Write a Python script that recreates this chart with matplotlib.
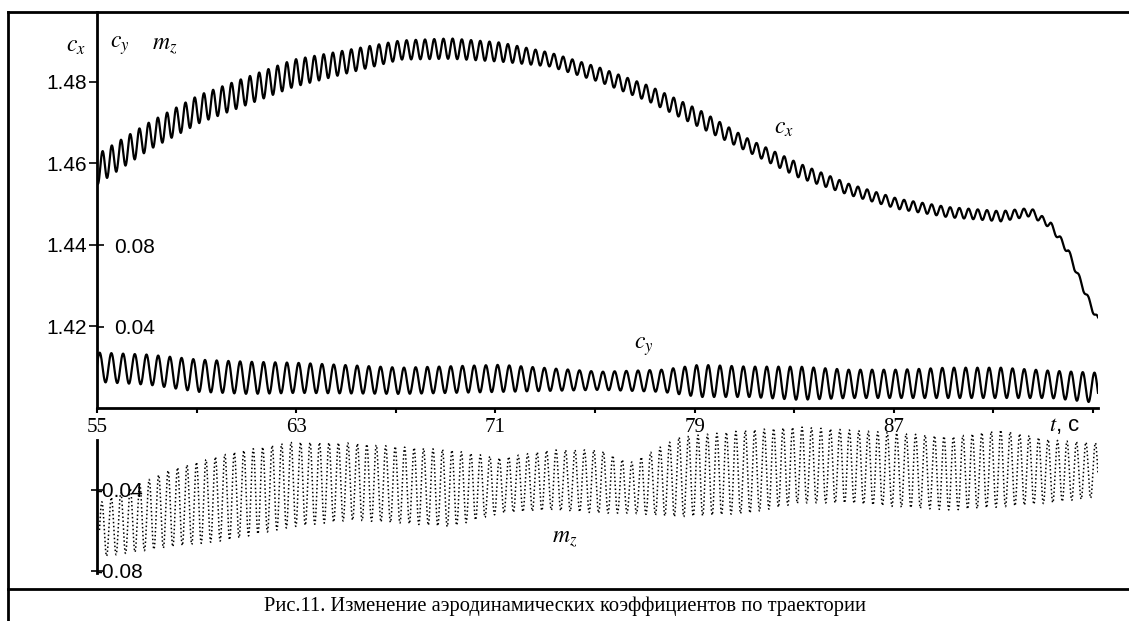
import numpy as np
import matplotlib.pyplot as plt
from matplotlib.lines import Line2D

plt.rcParams['mathtext.fontset'] = 'stix'
plt.rcParams['axes.unicode_minus'] = False

W, H = 1129, 621

# envelopes: upper and lower edge of each oscillating curve
t_cx = [55.0, 57.1, 59.1, 62.9, 67.2, 69.2, 71.2, 73.2, 75.2, 77.2, 79.2, 81.2,
        83.2, 85.2, 87.2, 89.2, 91.3, 92.5, 93.3, 94.0, 94.4, 94.8, 95.2]
cx_hi = [1.4622, 1.4701, 1.4768, 1.4855, 1.4902, 1.4907, 1.4897, 1.4872, 1.4835,
         1.4790, 1.4731, 1.4659, 1.4600, 1.4550, 1.4513, 1.4493, 1.4483, 1.4491,
         1.4456, 1.4392, 1.4332, 1.4275, 1.4223]
cx_lo = [1.4548, 1.4634, 1.4699, 1.4788, 1.4855, 1.4857, 1.4850, 1.4838, 1.4800,
         1.4751, 1.4689, 1.4627, 1.4565, 1.4523, 1.4488, 1.4468, 1.4458, 1.4471,
         1.4441, 1.4377, 1.4317, 1.4260, 1.4206]

t_cy = [55.0, 57.1, 59.1, 61.1, 63.0, 67.2, 71.2, 75.2, 77.7, 79.2, 81.2, 83.2,
        85.2, 87.2, 89.2, 91.3, 93.3, 95.2]
cy_hi = [0.0272, 0.0262, 0.0237, 0.0227, 0.0222, 0.0198, 0.0212, 0.0178, 0.0188,
         0.0212, 0.0203, 0.0203, 0.0188, 0.0188, 0.0198, 0.0198, 0.0183, 0.0173]
cy_lo = [0.0128, 0.0114, 0.0079, 0.0069, 0.0074, 0.0069, 0.0079, 0.0089, 0.0079,
         0.0054, 0.0054, 0.0040, 0.0049, 0.0049, 0.0049, 0.0049, 0.0049, 0.0025]

t_mz = [55.1, 57.9, 60.3, 62.8, 65.2, 67.2, 69.2, 71.2, 73.2, 75.2, 76.4, 78.4,
        81.2, 83.2, 85.2, 87.2, 89.3, 91.3, 93.3, 95.2]
mz_hi = [-0.0466, -0.0304, -0.0221, -0.0167, -0.0172, -0.0191, -0.0206, -0.0246,
         -0.0206, -0.0206, -0.0270, -0.0142, -0.0108, -0.0093, -0.0108, -0.0123,
         -0.0142, -0.0108, -0.0157, -0.0172]
mz_lo = [-0.0732, -0.0683, -0.0648, -0.0584, -0.0550, -0.0565, -0.0584, -0.0516,
         -0.0501, -0.0516, -0.0516, -0.0535, -0.0516, -0.0466, -0.0466, -0.0486,
         -0.0501, -0.0486, -0.0466, -0.0437]

# oscillation periods (s), counted from the picture
period_cx = 0.37
period_cy = 0.47
period_mz = 0.38

x_ticks = [55, 59, 63, 67, 71, 75, 79, 83, 87, 91, 95]
x_labels = ['55', '', '63', '', '71', '', '79', '', '87', '', '']
cx_ticks = [1.42, 1.44, 1.46, 1.48]
cy_ticks = [0.04, 0.08]
mz_ticks = [-0.04, -0.08]


def wave(t_knots, hi, lo, period, t):
    up = np.interp(t, t_knots, hi)
    dn = np.interp(t, t_knots, lo)
    return (up + dn) / 2 + (up - dn) / 2 * np.sin(2 * np.pi * t / period)


def fx(px):
    return px / W


def fy(py):
    return 1 - py / H


t = np.linspace(55.0, 95.2, 6000)
t_m = np.linspace(55.1, 95.2, 6000)
cx = wave(t_cx, cx_hi, cx_lo, period_cx, t)
cy = wave(t_cy, cy_hi, cy_lo, period_cy, t)
mz = wave(t_mz, mz_hi, mz_lo, period_mz, t_m)

fig = plt.figure(figsize=(W / 100, H / 100), dpi=100)

px_per = 0.04 / 81.5   # cy / mz units per pixel
ax = fig.add_axes([fx(97), fy(408), fx(1098) - fx(97), fy(12) - fy(408)])
ax.set_xlim(55, 95.2)
ax.set_ylim(0, 396 * px_per)
ax.patch.set_visible(False)
for s in ['top', 'right']:
    ax.spines[s].set_visible(False)
ax.spines['left'].set_linewidth(2)
ax.spines['bottom'].set_linewidth(2)
ax.set_xticks(x_ticks, x_labels, fontfamily='Liberation Serif', fontsize=15)
ax.tick_params(axis='x', direction='out', length=3.5, width=1.5, pad=4)
ax.set_yticks(cy_ticks, ['0.04', '0.08'], fontfamily='Liberation Sans', fontsize=15)
ax.tick_params(axis='y', direction='in', length=5, width=1.2, pad=-12)
for lab in ax.get_yticklabels():
    lab.set_horizontalalignment('left')

axx = ax.twinx()
axx.set_ylim(1.40, 1.40 + 396 * px_per / 2)
axx.patch.set_visible(False)
for s in axx.spines.values():
    s.set_visible(False)
axx.yaxis.tick_left()
axx.set_yticks(cx_ticks, ['1.42', '1.44', '1.46', '1.48'], fontfamily='Liberation Sans', fontsize=15)
axx.tick_params(axis='y', direction='out', length=6, width=1.2, pad=1)

axm = fig.add_axes([fx(97), fy(585), fx(1098) - fx(97), fy(408) - fy(585)])
axm.set_xlim(55, 95.2)
axm.set_ylim(-177 * px_per, 0)
axm.patch.set_visible(False)
for s in ['top', 'right', 'bottom']:
    axm.spines[s].set_visible(False)
axm.spines['left'].set_linewidth(2)
axm.spines['left'].set_bounds(-0.081, -0.0158)
axm.set_xticks([])
axm.set_yticks(mz_ticks, ['-0.04', '-0.08'], fontfamily='Liberation Sans', fontsize=15)
axm.tick_params(axis='y', direction='inout', length=8, width=1.2, pad=-3)
for lab in axm.get_yticklabels():
    lab.set_horizontalalignment('left')

axx.plot(t, cx, color='black', lw=1.6)
ax.plot(t, cy, color='black', lw=1.6)
axm.plot(t_m, mz, color='black', lw=1.1, linestyle=(0, (1, 1.6)))

# frame and caption
line_kw = dict(transform=fig.transFigure, color='black', lw=2)
fig.add_artist(Line2D([fx(8), fx(8)], [fy(12), 0], **line_kw))
fig.add_artist(Line2D([fx(8), 1], [fy(12), fy(12)], **line_kw))
fig.add_artist(Line2D([fx(8), 1], [fy(589), fy(589)], **line_kw))
fig.text(fx(565), fy(606), 'Рис.11. Изменение аэродинамических коэффициентов по траектории',
         ha='center', va='center', fontfamily='Liberation Serif', fontsize=14.8)

# curve and axis labels
fig.text(fx(76), fy(45), '$c_x$', fontsize=17, ha='center', va='center')
fig.text(fx(120), fy(45), '$c_y$', fontsize=17, ha='center', va='center')
fig.text(fx(165), fy(45), '$m_z$', fontsize=17, ha='center', va='center')
fig.text(fx(784), fy(127), '$c_x$', fontsize=17, ha='center', va='center')
fig.text(fx(644), fy(346), '$c_y$', fontsize=17, ha='center', va='center')
fig.text(fx(565), fy(538), '$m_z$', fontsize=17, ha='center', va='center')
fig.text(fx(1065), fy(426), '$t$, c', fontsize=16, ha='center', va='center',
         fontfamily='Liberation Sans')

fig.savefig('out.png', dpi=100)
